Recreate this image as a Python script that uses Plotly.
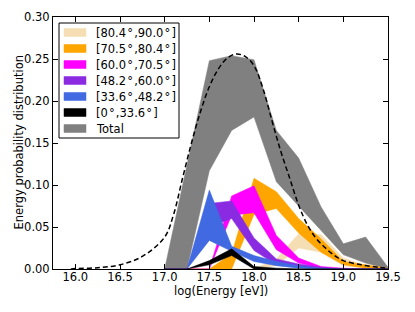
import plotly.graph_objects as go

# ---- data ----
x_bins = [17.0, 17.25, 17.5, 17.75, 18.0, 18.25, 18.5, 18.75, 19.0, 19.25, 19.5]

total_upper = [0.0, 0.125, 0.248, 0.254, 0.249, 0.165, 0.132, 0.074, 0.030, 0.038, 0.002]
total_lower = [0.0, 0.0, 0.117, 0.165, 0.181, 0.104, 0.074, 0.046, 0.017, 0.007, 0.0]

wheat_upper = [0, 0, 0, 0, 0, 0.012, 0.042, 0.041, 0.013, 0.004, 0]
wheat_lower = [0, 0, 0, 0, 0, 0.004, 0.025, 0.020, 0.004, 0.001, 0]

orange_upper = [0, 0, 0, 0.018, 0.108, 0.092, 0.060, 0.036, 0.009, 0.005, 0.001]
orange_lower = [0, 0, 0, 0, 0.065, 0.072, 0.043, 0.020, 0.005, 0.001, 0]

magenta_upper = [0, 0, 0, 0.087, 0.099, 0.040, 0.013, 0.003, 0.001, 0, 0]
magenta_lower = [0, 0, 0, 0.064, 0.067, 0.023, 0.007, 0.001, 0, 0, 0]

purple_upper = [0, 0, 0.078, 0.081, 0.037, 0.012, 0.006, 0.002, 0, 0, 0]
purple_lower = [0, 0, 0.050, 0.060, 0.022, 0.005, 0.002, 0, 0, 0, 0]

blue_upper = [0, 0, 0.094, 0.027, 0.016, 0.009, 0.004, 0.001, 0, 0, 0]
blue_lower = [0, 0, 0.034, 0.021, 0.009, 0.004, 0.001, 0, 0, 0, 0]

black_upper = [0, 0, 0.010, 0.024, 0.003, 0.001, 0, 0, 0, 0, 0]
black_lower = [0, 0, 0.005, 0.016, 0.0, 0, 0, 0, 0, 0, 0]

dash_x = [15.95, 16.0, 16.25, 16.5, 16.75, 17.0, 17.1, 17.2, 17.3, 17.4, 17.5, 17.6, 17.7,
          17.8, 17.9, 18.0, 18.1, 18.2, 18.3, 18.4, 18.5, 18.6, 18.7, 18.8, 18.9, 19.0,
          19.2, 19.4, 19.5]
dash_y = [0.0, 0.0005, 0.0015, 0.005, 0.015, 0.038, 0.065, 0.108, 0.150, 0.187, 0.217,
          0.238, 0.251, 0.256, 0.253, 0.242, 0.215, 0.177, 0.140, 0.108, 0.076, 0.052,
          0.036, 0.025, 0.016, 0.010, 0.005, 0.002, 0.001]

T = "\u200a"
labels = [
    f"[80.4{T}°{T},90.0{T}°{T}]",
    f"[70.5{T}°{T},80.4{T}°{T}]",
    f"[60.0{T}°{T},70.5{T}°{T}]",
    f"[48.2{T}°{T},60.0{T}°{T}]",
    f"[33.6{T}°{T},48.2{T}°{T}]",
    f"[0{T}°{T},33.6{T}°{T}]",
    "Total",
]
colors = ["#F5DEB3", "#FFA500", "#FF00FF", "#8A2BE2", "#4169E1", "#000000", "#808080"]

bands = [
    (wheat_upper, wheat_lower),
    (orange_upper, orange_lower),
    (magenta_upper, magenta_lower),
    (purple_upper, purple_lower),
    (blue_upper, blue_lower),
    (black_upper, black_lower),
]

fig = go.Figure()


def add_band(up, lo, name, color):
    fig.add_trace(go.Scatter(
        x=x_bins + x_bins[::-1],
        y=up + lo[::-1],
        fill="toself",
        fillcolor=color,
        line=dict(color=color, width=0.5),
        mode="lines",
        name=name,
        showlegend=False,
        hoverinfo="skip",
    ))


# Total drawn first (underneath)
add_band(total_upper, total_lower, labels[6], colors[6])
for i, (up, lo) in enumerate(bands):
    add_band(up, lo, labels[i], colors[i])

fig.add_trace(go.Scatter(
    x=dash_x, y=dash_y, mode="lines", line_shape="spline",
    line=dict(color="black", width=1.5, dash="5px,3px"),
    showlegend=False, hoverinfo="skip",
))

font = dict(family="DejaVu Sans", size=11.5, color="black")

# ---- plot-area geometry (page pixels) for the hand-made legend ----
PL, PR, PT, PB = 53.0, 388.0, 17.0, 269.0


def px(x):
    return (x - PL) / (PR - PL)


def py(y):
    return (PB - y) / (PB - PT)


shapes = [dict(type="rect", xref="paper", yref="paper",
               x0=px(59), x1=px(179), y0=py(138), y1=py(23),
               line=dict(color="black", width=1), fillcolor="white", layer="above")]
annotations = []
for i, (lab, col) in enumerate(zip(labels, colors)):
    yc = 32.5 + 16 * i
    shapes.append(dict(type="rect", xref="paper", yref="paper",
                       x0=px(64), x1=px(86), y0=py(yc + 4), y1=py(yc - 4),
                       line=dict(color=col, width=0.5), fillcolor=col, layer="above"))
    annotations.append(dict(xref="paper", yref="paper", x=px(94), y=py(yc),
                            xanchor="left", yanchor="middle", text=lab,
                            showarrow=False, font=font))

annotations.append(dict(xref="paper", yref="paper", x=0.5, y=py(291),
                        xanchor="center", yanchor="middle", text="log(Energy [eV])",
                        showarrow=False, font=font))
annotations.append(dict(xref="paper", yref="paper", x=px(18.5), y=0.5,
                        xanchor="center", yanchor="middle", textangle=-90,
                        text="Energy probability distribution",
                        showarrow=False, font=font))

# page body has an 8px margin: figure is 8px smaller and margins compensate
fig.update_layout(
    width=407, height=304,
    margin=dict(l=45, r=27, t=9, b=43, autoexpand=False),
    paper_bgcolor="white", plot_bgcolor="white",
    font=font,
    showlegend=False,
    shapes=shapes,
    annotations=annotations,
    xaxis=dict(
        range=[15.75, 19.5], tickmode="array",
        tickvals=[16.0, 16.5, 17.0, 17.5, 18.0, 18.5, 19.0, 19.5],
        ticktext=["16.0", "16.5", "17.0", "17.5", "18.0", "18.5", "19.0", "19.5"],
        ticks="inside", ticklen=5, tickcolor="black", ticklabelstandoff=-3,
        showline=True, linecolor="black", linewidth=1, mirror="ticks",
        showgrid=False, zeroline=False, automargin=False,
    ),
    yaxis=dict(
        range=[0, 0.30], tickmode="array",
        tickvals=[0.0, 0.05, 0.10, 0.15, 0.20, 0.25, 0.30],
        ticktext=["0.00", "0.05", "0.10", "0.15", "0.20", "0.25", "0.30"],
        ticks="inside", ticklen=5, tickcolor="black",
        showline=True, linecolor="black", linewidth=1, mirror="ticks",
        showgrid=False, zeroline=False, automargin=False,
    ),
)

fig.write_html("out.html")
